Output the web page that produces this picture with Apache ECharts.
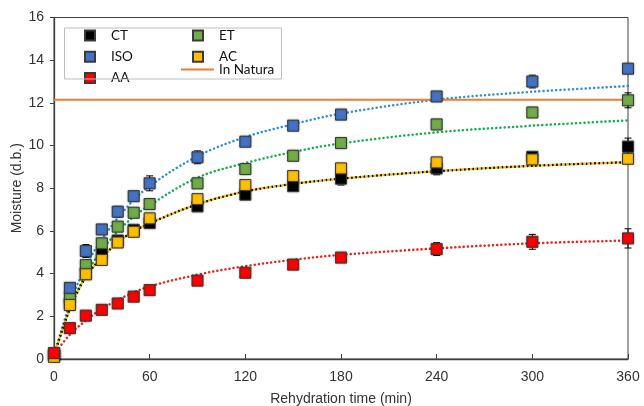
<!DOCTYPE html>
<html>
<head>
<meta charset="utf-8">
<script src="https://cdn.jsdelivr.net/npm/echarts@6/dist/echarts.min.js"></script>
<style>
  html, body { margin: 0; padding: 0; background: #fff; }
  #chart { width: 644px; height: 406px; }
</style>
</head>
<body>
<div id="chart"></div>
<script>
// Measured points (minutes → moisture, d.b.)
const times = [0, 10, 20, 30, 40, 50, 60, 90, 120, 150, 180, 240, 300, 360];
const ctVals  = [0.15, 2.6, 4.0, 4.92, 5.55, 6.05, 6.37, 7.15, 7.7, 8.1, 8.45, 8.93, 9.47, 9.95];
const isoVals = [0.2, 3.33, 5.06, 6.07, 6.9, 7.63, 8.23, 9.45, 10.18, 10.93, 11.45, 12.3, 13.0, 13.6];
const etVals  = [0.2, 2.9, 4.4, 5.42, 6.2, 6.85, 7.26, 8.23, 8.9, 9.52, 10.12, 10.99, 11.55, 12.12];
const acVals  = [0.1, 2.53, 3.97, 4.64, 5.46, 5.96, 6.59, 7.49, 8.15, 8.57, 8.93, 9.21, 9.35, 9.38];
const aaVals  = [0.28, 1.45, 2.03, 2.3, 2.6, 2.92, 3.23, 3.67, 4.04, 4.42, 4.75, 5.15, 5.49, 5.65];

// Standard deviations (error bars)
const ctErr  = [0.1, 0.1, 0.15, 0.2, 0.15, 0.1, 0.15, 0.15, 0.15, 0.2, 0.3, 0.3, 0.2, 0.4];
const isoErr = [0.1, 0.15, 0.3, 0.2, 0.25, 0.2, 0.35, 0.3, 0.15, 0.1, 0.1, 0.2, 0.3, 0.15];
const etErr  = [0.1, 0.1, 0.2, 0.15, 0.1, 0.1, 0.1, 0.1, 0.1, 0.1, 0.1, 0.1, 0.1, 0.35];
const acErr  = [0.1, 0.1, 0.1, 0.1, 0.1, 0.1, 0.1, 0.15, 0.1, 0.1, 0.1, 0.1, 0.1, 0.1];
const aaErr  = [0.1, 0.1, 0.1, 0.1, 0.1, 0.1, 0.1, 0.1, 0.1, 0.1, 0.15, 0.3, 0.35, 0.45];

// Fitted curves
const curveT   = [0, 10, 20, 30, 45, 60, 90, 120, 150, 180, 240, 300, 360];
const isoCurve = [0.15, 2.6, 4.35, 5.6, 7.05, 8.1, 9.5, 10.4, 11.0, 11.5, 12.15, 12.52, 12.79];
const etCurve  = [0.15, 2.4, 3.95, 5.1, 6.35, 7.2, 8.5, 9.18, 9.7, 10.1, 10.62, 10.93, 11.18];
const ctCurve  = [0.15, 2.35, 3.85, 4.75, 5.75, 6.35, 7.25, 7.85, 8.2, 8.45, 8.8, 9.05, 9.22];
const acCurve  = [0.15, 2.35, 3.85, 4.75, 5.75, 6.35, 7.25, 7.85, 8.2, 8.45, 8.8, 9.05, 9.22];
const aaCurve  = [0.2, 1.15, 1.8, 2.35, 2.95, 3.4, 3.95, 4.35, 4.65, 4.88, 5.18, 5.42, 5.55];

const inNatura = 12.15;
const xTicks = [0, 60, 120, 180, 240, 300, 360];
const yTicks = [0, 2, 4, 6, 8, 10, 12, 14, 16];

const AXIS_FONT = "'Liberation Sans', Arial, sans-serif";
const LEGEND_FONT = "Lato, 'Open Sans', sans-serif";

function pairs(xs, ys) { return xs.map((x, i) => [x, ys[i]]); }
function triples(xs, ys, es) { return xs.map((x, i) => [x, ys[i], es[i]]); }

function errBars(params, api) {
  const x = api.value(0), y = api.value(1), e = api.value(2);
  const top = api.coord([x, y + e]);
  const bot = api.coord([x, y - e]);
  const hw = 3.5;
  const st = { stroke: "#000", lineWidth: 1 };
  return {
    type: "group",
    children: [
      { type: "line", shape: { x1: top[0], y1: top[1], x2: bot[0], y2: bot[1] }, style: st },
      { type: "line", shape: { x1: top[0] - hw, y1: top[1], x2: top[0] + hw, y2: top[1] }, style: st },
      { type: "line", shape: { x1: bot[0] - hw, y1: bot[1], x2: bot[0] + hw, y2: bot[1] }, style: st },
    ],
  };
}

function curve(name, ys, color, offset) {
  return {
    name: name + " fit",
    type: "line",
    data: pairs(curveT, ys),
    smooth: 0.35,
    showSymbol: false,
    symbol: "none",
    silent: true,
    z: 2,
    lineStyle: { color, width: 2.5, type: [0.1, 4.1], dashOffset: offset || 0, cap: "round" },
  };
}

function points(name, ys, es, color, z) {
  return [
    { name: name + " err", type: "custom", renderItem: errBars, data: triples(times, ys, es), z: z, clip: false },
    {
      name,
      type: "scatter",
      data: pairs(times, ys),
      symbol: "rect",
      symbolSize: 11,
      clip: false,
      z: z + 1,
      itemStyle: {
        color,
        opacity: 1,
        borderColor: "#3a3a3a",
        borderWidth: 1,
        shadowBlur: 2,
        shadowColor: "rgba(0,0,0,0.35)",
      },
    },
  ];
}

const legendText = { fontFamily: LEGEND_FONT, fontSize: 13.5, color: "#111", padding: [0, 0, 0, 11] };

const option = {
  animation: false,
  backgroundColor: "#fff",
  grid: {
    left: 54, right: 16, top: 17.5, bottom: 47,
    outerBoundsMode: "none", containLabel: false,
    show: true, borderColor: "#404040", borderWidth: 1,
  },
  xAxis: {
    type: "value",
    min: 0,
    max: 360,
    interval: 60,
    name: "Rehydration time (min)",
    nameLocation: "middle",
    nameGap: 33,
    nameMoveOverlap: false,
    nameTextStyle: { fontFamily: AXIS_FONT, fontSize: 14, color: "#333" },
    axisLine: { lineStyle: { color: "#404040", width: 1.3 } },
    axisTick: { inside: true, length: 5, lineStyle: { color: "#404040" } },
    axisLabel: {
      fontFamily: AXIS_FONT, fontSize: 14, color: "#333", margin: 11,
      formatter: (v) => (xTicks.includes(v) ? String(v) : ""),
    },
    splitLine: { show: false },
  },
  yAxis: {
    type: "value",
    min: 0,
    max: 16,
    interval: 2,
    name: "Moisture (d.b.)",
    nameLocation: "middle",
    nameGap: 30,
    nameMoveOverlap: false,
    nameTextStyle: { fontFamily: AXIS_FONT, fontSize: 14, color: "#333" },
    axisLine: { show: true, lineStyle: { color: "#404040", width: 1.3 } },
    axisTick: { show: true, length: 4, lineStyle: { color: "#404040" } },
    axisLabel: {
      fontFamily: AXIS_FONT, fontSize: 14, color: "#333", margin: 10,
      formatter: (v) => (yTicks.includes(v) ? String(v) : ""),
    },
    splitLine: { show: false },
  },
  legend: [
    {
      data: ["CT", "ISO", "AA"], orient: "vertical", left: 84, top: 28.5, padding: 0,
      itemWidth: 10, itemHeight: 10, itemGap: 7.3, textStyle: legendText, selectedMode: false,
    },
    {
      data: ["ET", "AC"], orient: "vertical", left: 192, top: 28.5, padding: 0,
      itemWidth: 10, itemHeight: 10, itemGap: 7.3, textStyle: legendText, selectedMode: false,
    },
    {
      data: [{ name: "In Natura", icon: "rect" }], orient: "vertical", left: 181, top: 62.5, padding: 0,
      itemWidth: 33, itemHeight: 2, textStyle: Object.assign({}, legendText, { padding: 0 }), selectedMode: false,
    },
  ],
  graphic: [
    {
      type: "rect",
      left: 62, top: 25.5, z: 100,
      shape: { width: 217, height: 51 },
      style: { fill: "none", stroke: "#bfbfbf", lineWidth: 1 },
    },
  ],
  series: [
    curve("AA", aaCurve, "#e8221c"),
    curve("ET", etCurve, "#10b050"),
    curve("ISO", isoCurve, "#2f8fdf"),
    curve("CT", ctCurve, "#111", 0),
    curve("AC", acCurve, "#ffc000", 2),
    {
      name: "In Natura",
      type: "line",
      data: [[0, inNatura], [360, inNatura]],
      symbol: "none",
      z: 3,
      lineStyle: { color: "#ed7d31", width: 2 },
      itemStyle: { color: "#ed7d31" },
    },
    ...points("CT", ctVals, ctErr, "#000000", 10),
    ...points("ET", etVals, etErr, "#70ad47", 12),
    ...points("ISO", isoVals, isoErr, "#4472c4", 14),
    ...points("AC", acVals, acErr, "#ffc000", 16),
    ...points("AA", aaVals, aaErr, "#ff0000", 18),
  ],
};

const chart = echarts.init(document.getElementById("chart"), null, { renderer: "canvas" });
chart.setOption(option);
</script>
</body>
</html>
